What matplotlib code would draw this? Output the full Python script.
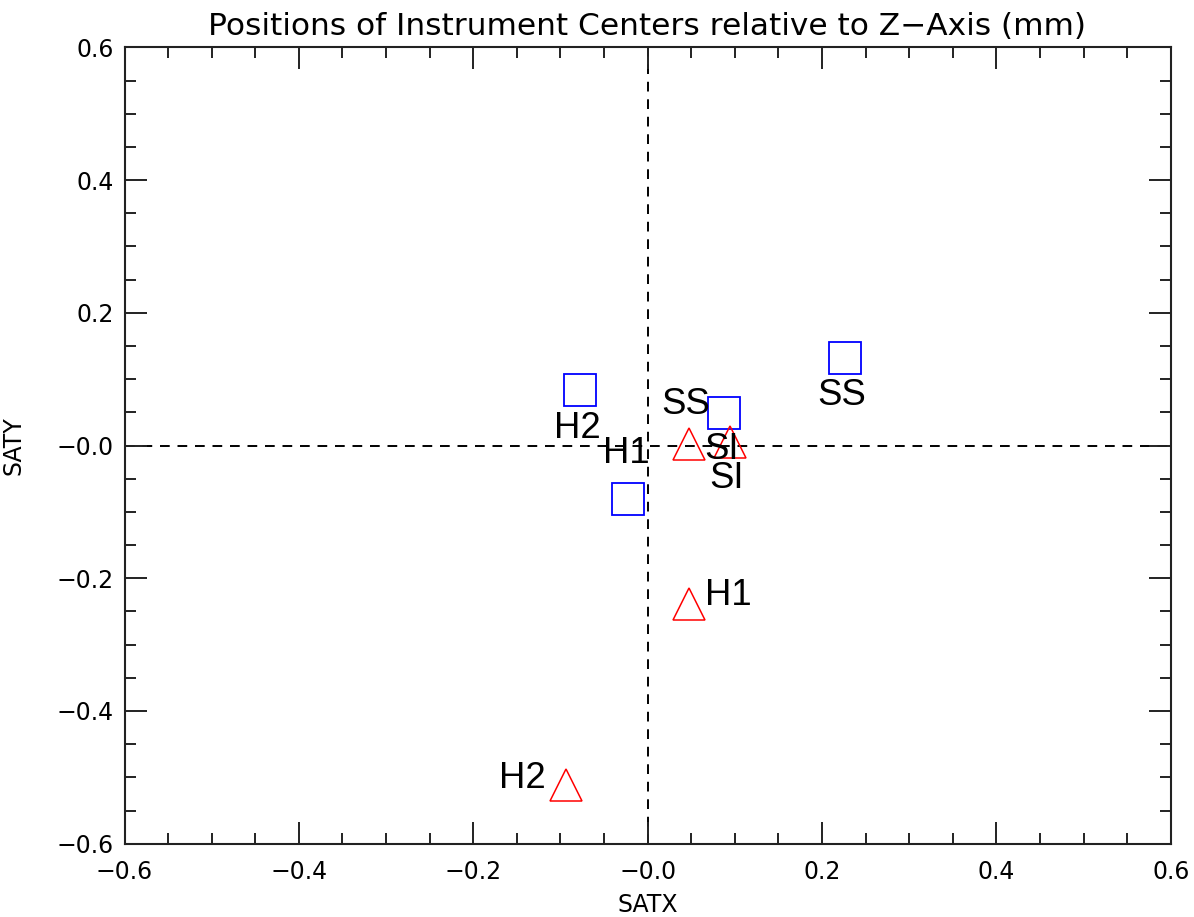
import matplotlib
matplotlib.use("Agg")
import matplotlib.pyplot as plt
from matplotlib.ticker import MultipleLocator, FixedLocator

# Instrument names
instruments = ["H2", "H1", "SI", "SS"]

# Square markers (blue)
sq_x = [-0.078, -0.022, 0.088, 0.226]
sq_y = [0.083, -0.080, 0.049, 0.132]

# Triangle markers (red)
tri_x = [-0.094, 0.048, 0.095, 0.048]
tri_y = [-0.512, -0.239, 0.005, 0.003]

# Text labels (text, x, baseline y)
lab_text = ["H2", "H1", "SS", "SI", "SI", "SS", "H1", "H2"]
lab_x = [-0.081, -0.024, 0.044, 0.085, 0.091, 0.223, 0.092, -0.144]
lab_y = [0.011, -0.026, 0.0475, -0.021, -0.0645, 0.061, -0.240, -0.5156]

major_ticks = [-0.6, -0.4, -0.2, 0.0, 0.2, 0.4, 0.6]
tick_labels = ["\u22120.6", "\u22120.4", "\u22120.2", "\u22120.0", "0.2", "0.4", "0.6"]

fig = plt.figure(figsize=(11.94, 9.17), dpi=100)
ax = fig.add_axes([0.1043, 0.0799, 0.9805 - 0.1043, 0.9484 - 0.0799])

ax.set_xlim(-0.6, 0.6)
ax.set_ylim(-0.6, 0.6)

ax.axvline(0, color="black", lw=1.4, ls=(0, (5, 4)), zorder=1)
ax.axhline(0, color="black", lw=1.4, ls=(0, (5, 4)), zorder=1)

ax.plot(sq_x, sq_y, ls="none", marker="s", ms=23, mfc="none", mec="#0000ff", mew=1.3, zorder=3)
ax.plot(tri_x, tri_y, ls="none", marker="^", ms=23, mfc="none", mec="#ff0000", mew=1.1, zorder=3)

for t, x, y in zip(lab_text, lab_x, lab_y):
    ax.text(x, y, t, ha="center", va="baseline", fontsize=26.3,
            family="Liberation Sans", color="black", zorder=4)

ax.xaxis.set_major_locator(FixedLocator(major_ticks))
ax.yaxis.set_major_locator(FixedLocator(major_ticks))
ax.xaxis.set_minor_locator(MultipleLocator(0.05))
ax.yaxis.set_minor_locator(MultipleLocator(0.05))
ax.set_xticklabels(tick_labels)
ax.set_yticklabels(tick_labels)

ax.tick_params(which="both", direction="in", top=True, right=True, width=1.4, color="#222222")
ax.tick_params(which="major", length=15.8)
ax.tick_params(which="minor", length=7.6)
ax.tick_params(axis="x", which="major", labelsize=17, pad=12)
ax.tick_params(axis="y", which="major", labelsize=17, pad=8)

for s in ax.spines.values():
    s.set_linewidth(1.5)
    s.set_color("#222222")

ax.set_xlabel("SATX", fontsize=17, labelpad=6)
ax.set_ylabel("SATY", fontsize=17, labelpad=22)

fig.text(0.5415, 1 - 35 / 917, "Positions of Instrument Centers relative to Z\u2212Axis (mm)",
         ha="center", va="baseline", fontsize=22.5)

fig.savefig("out.png", dpi=100)
